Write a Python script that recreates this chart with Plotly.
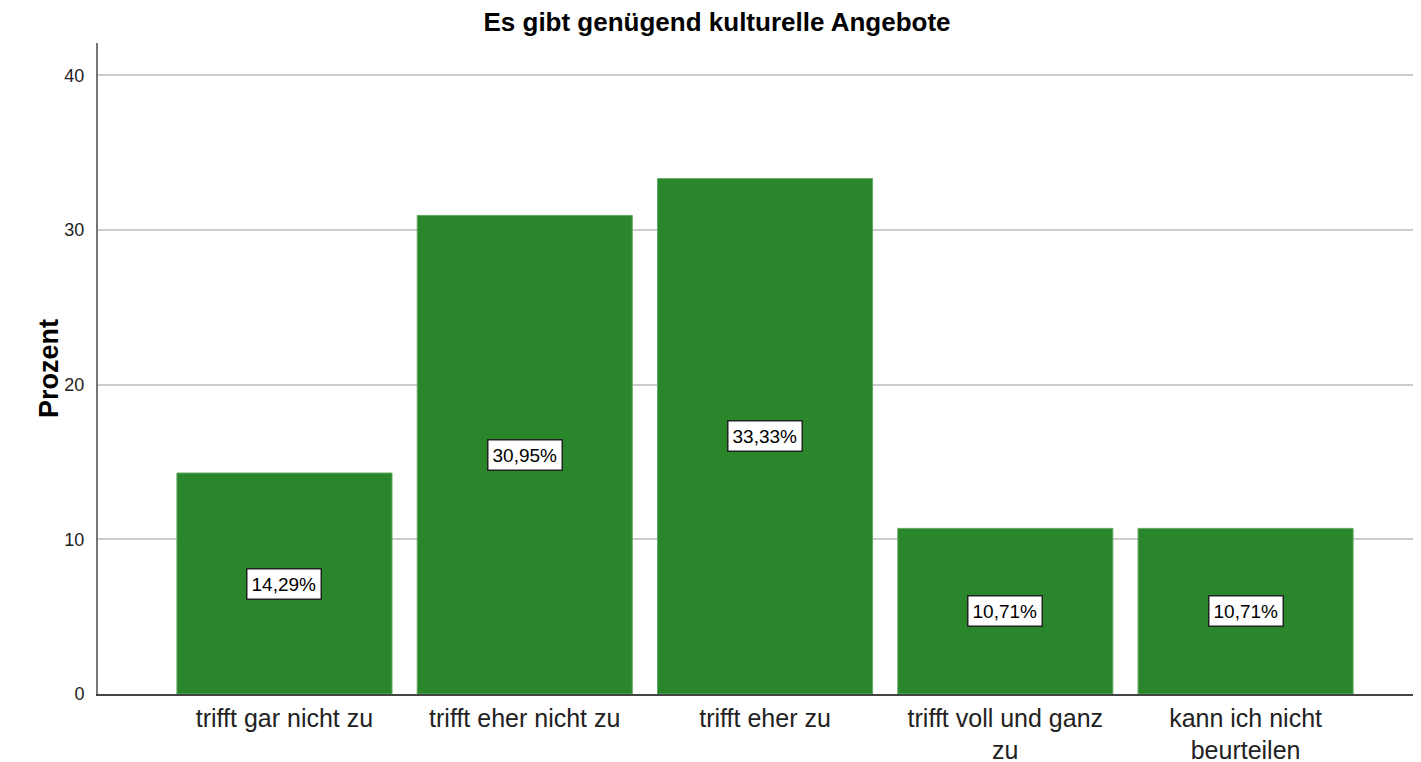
import plotly.graph_objects as go

categories = ["trifft gar nicht zu", "trifft eher nicht zu", "trifft eher zu",
              "trifft voll und ganz<br>zu", "kann ich nicht<br>beurteilen"]
values = [14.29, 30.95, 33.33, 10.71, 10.71]
y_ticks = [0, 10, 20, 30, 40]
title_text = "Es gibt genügend kulturelle Angebote"
y_title = "Prozent"

labels = [f"{v:.2f}".replace(".", ",") + "%" for v in values]
FONT = "Liberation Sans, Arial, sans-serif"

# the page body has an 8px margin, so the figure is sized to fit the window
OFF = 8
W, H = 1421 - OFF, 762 - OFF
L, R, T, B = 98 - OFF, 0, 43 - OFF, H - (694 - OFF)
PW, PH = W - L - R, H - T - B

fig = go.Figure()
fig.add_trace(go.Bar(
    x=categories, y=values,
    marker=dict(color="#2a862a", line=dict(color="#5fa85f", width=1)),
    width=0.895,
    hoverinfo="skip",
))

for c, v, t in zip(categories, values, labels):
    fig.add_annotation(
        x=c, y=v / 2, xref="x", yref="y", text=t, showarrow=False,
        font=dict(family=FONT, size=19, color="black"),
        bgcolor="white", bordercolor="#222222", borderwidth=1.5, borderpad=4,
    )

fig.add_annotation(
    x=(32 - OFF - L) / PW, y=1 - (369 - OFF - T) / PH, xref="paper", yref="paper",
    text=f"<b>{y_title}</b>", showarrow=False, textangle=-90,
    font=dict(family=FONT, size=27, color="black"),
)

fig.update_layout(
    width=W, height=H,
    margin=dict(l=L, r=R, t=T, b=B, autoexpand=False),
    paper_bgcolor="white", plot_bgcolor="white",
    showlegend=False,
    title=dict(text=f"<b>{title_text}</b>", x=(717 - OFF) / W, xanchor="center",
               y=1 - (22 - OFF) / H, yanchor="middle", yref="container",
               font=dict(family=FONT, size=26, color="black")),
    xaxis=dict(
        range=[-0.776, 4.73], showgrid=False, showline=True,
        linecolor="#444444", linewidth=1.5, ticks="",
        tickfont=dict(family=FONT, size=25, color="#222222"),
        ticklabelstandoff=1, automargin=False,
    ),
    yaxis=dict(
        range=[0, 42.1], tickvals=y_ticks, showgrid=True,
        gridcolor="#cccccc", gridwidth=2, showline=True,
        linecolor="#777777", linewidth=2, zeroline=False, ticks="",
        tickfont=dict(family=FONT, size=18, color="#222222"),
        ticklabelstandoff=8, automargin=False,
    ),
)

fig.write_html("out.html")
